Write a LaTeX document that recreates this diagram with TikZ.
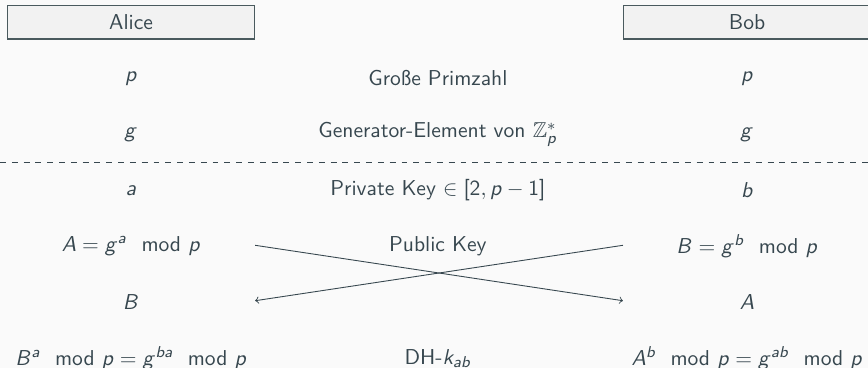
\documentclass[tikz,border=0pt]{standalone}
\usepackage{amsmath,amssymb}
\usetikzlibrary{calc}
\renewcommand\familydefault{\sfdefault}
\DeclareSymbolFont{operators}{OT1}{cmss}{m}{n}
\DeclareSymbolFont{sfletters}{OT1}{cmss}{m}{sl}
\DeclareMathSymbol{a}{\mathalpha}{sfletters}{`a}
\DeclareMathSymbol{b}{\mathalpha}{sfletters}{`b}
\DeclareMathSymbol{g}{\mathalpha}{sfletters}{`g}
\DeclareMathSymbol{p}{\mathalpha}{sfletters}{`p}
\DeclareMathSymbol{k}{\mathalpha}{sfletters}{`k}
\DeclareMathSymbol{A}{\mathalpha}{sfletters}{`A}
\DeclareMathSymbol{B}{\mathalpha}{sfletters}{`B}
\definecolor{ink}{HTML}{37474F}
\definecolor{boxline}{HTML}{4A5A5E}
\definecolor{boxfill}{HTML}{F2F2F2}
\definecolor{bgc}{HTML}{FAFAFA}
\begin{document}
\begin{tikzpicture}[
  every node/.style={text=ink, font=\fontsize{10.95}{13}\selectfont},
  party/.style={draw=boxline, fill=boxfill, line width=0.6pt, minimum width=4.41cm, minimum height=0.59cm, inner sep=0pt},
  msg/.style={draw=ink, line width=0.45pt, ->},
  sep/.style={draw=ink, line width=0.45pt, dashed}
]
\fill[bgc] (-2.34,-6.17) rectangle (13.16,0.40);
\useasboundingbox (-2.34,-6.17) rectangle (13.16,0.40);
\node[party] (alice) at (0,0) {Alice};
\node[party] (bob) at (11,0) {Bob};
\node (p1) at (0,-1) {$p$};
\node (pm) at (5.48,-1) {Große Primzahl};
\node (p2) at (11,-1) {$p$};
\node (g1) at (0,-2) {$g$};
\node (gm) at (5.48,-2) {Generator-Element von $\mathbb{Z}_p^*$};
\node (g2) at (11,-2) {$g$};
\coordinate (dl) at (-2.34,-2.5);
\coordinate (dr) at (13.16,-2.5);
\draw[sep] (dl) -- (dr);
\node (a1) at (0,-3) {$a$};
\node (am) at (5.48,-3) {Private Key $\in [2, p-1]$};
\node (a2) at (11,-3) {$b$};
\node (A1) at (0,-4) {$A = g^a \mod p$};
\node (Am) at (5.48,-4) {Public Key};
\node (A2) at (11,-4) {$B = g^b \mod p$};
\node (B1) at (0,-5) {$B$};
\node (B2) at (11,-5) {$A$};
\node (k1) at (0,-6) {$B^a \mod p = g^{ba} \mod p$};
\node (km) at (5.48,-6) {DH-$k_{ab}$};
\node (k2) at (11,-6) {$A^b \mod p = g^{ab} \mod p$};
\coordinate (s1) at ($(alice.east |- A1)+(0,0.02)$);
\coordinate (t1) at ($(bob.west |- B2)+(0,0.03)$);
\coordinate (s2) at ($(bob.west |- A2)+(0,0.02)$);
\coordinate (t2) at ($(alice.east |- B1)+(0,0.03)$);
\draw[msg] (s1) -- (t1);
\draw[msg] (s2) -- (t2);
\end{tikzpicture}
\end{document}
